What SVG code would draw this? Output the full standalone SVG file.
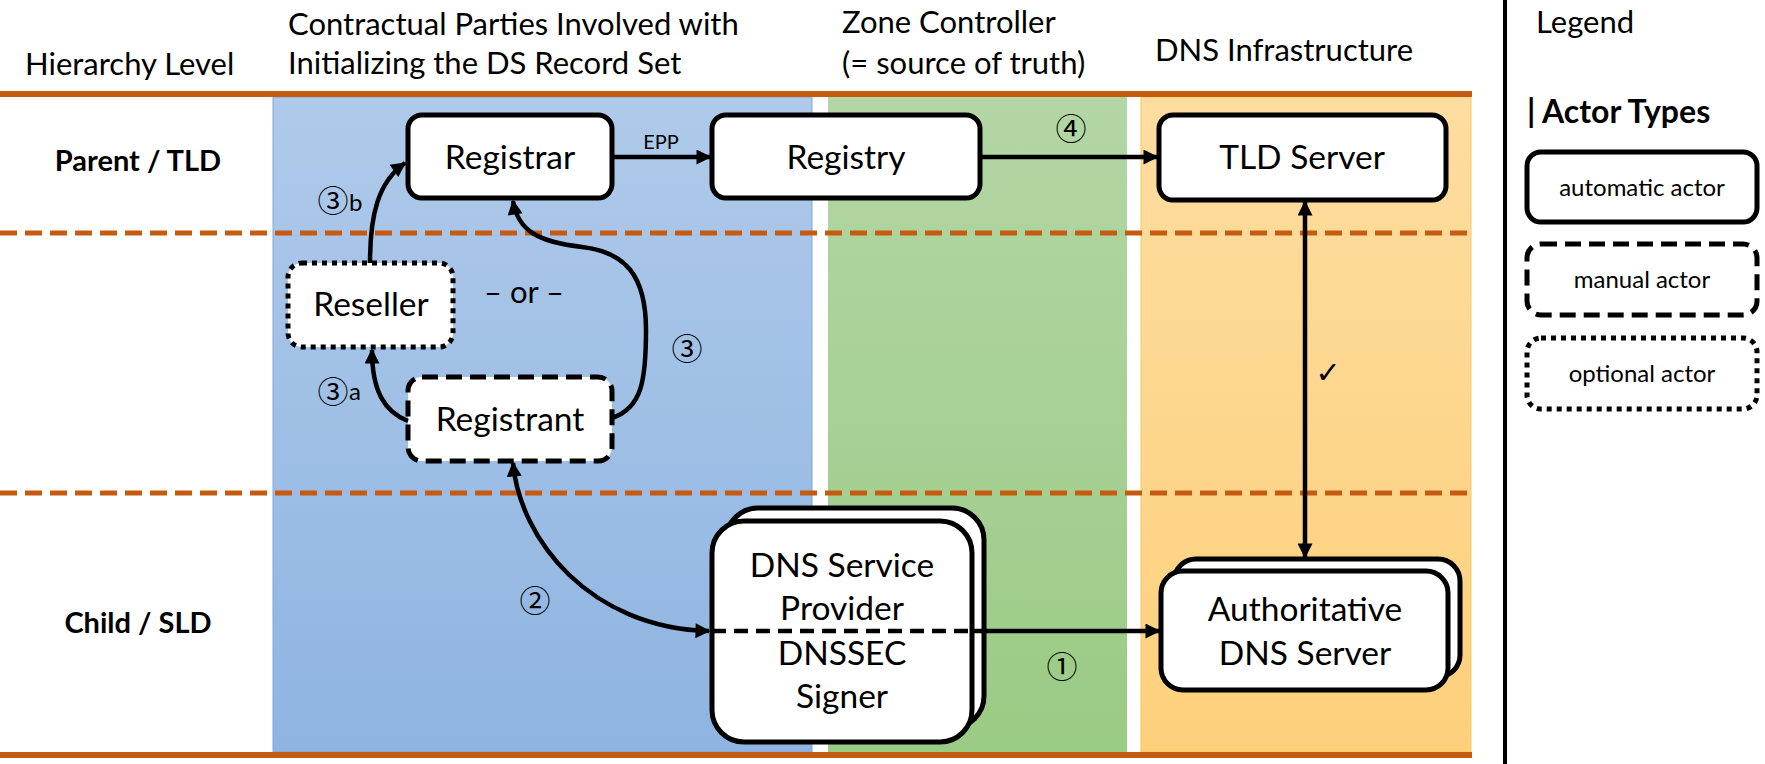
<svg xmlns="http://www.w3.org/2000/svg" width="1765" height="764" viewBox="0 0 1765 764">
<defs>
<linearGradient id="gBlue" x1="0" y1="0" x2="0" y2="1"><stop offset="0" stop-color="#afcaea"/><stop offset="1" stop-color="#8fb4e1"/></linearGradient>
<linearGradient id="gGreen" x1="0" y1="0" x2="0" y2="1"><stop offset="0" stop-color="#b3d6a5"/><stop offset="1" stop-color="#9acb84"/></linearGradient>
<linearGradient id="gOrange" x1="0" y1="0" x2="0" y2="1"><stop offset="0" stop-color="#fedda0"/><stop offset="1" stop-color="#fdd07b"/></linearGradient>
<marker id="arr" viewBox="0 0 10 10" refX="9" refY="5" markerWidth="17" markerHeight="15" markerUnits="userSpaceOnUse" orient="auto-start-reverse"><path d="M0,0 L10,5 L0,10 z" fill="#000"/></marker>
</defs>
<style>
.t{font-family:Lato,'Liberation Sans',sans-serif;fill:#000}
.hdr{font-size:31px}
.lbl{font-size:33.5px;text-anchor:middle}
.lg{font-size:24px;text-anchor:middle}
.bold{font-weight:bold;font-size:30px}
.node{fill:#fff;stroke:#000;stroke-width:5}
.dash{stroke-dasharray:16 8}
.dot{stroke-dasharray:5 5}
.conn{fill:none;stroke:#000;stroke-width:4.5}
.num{font-family:'Noto Sans CJK JP','DejaVu Sans',sans-serif;font-size:31px;text-anchor:middle;fill:#000}
.chk{font-family:'DejaVu Sans',sans-serif;font-size:30px;text-anchor:middle;fill:#000}
.sub{font-family:Lato,'Liberation Sans',sans-serif;font-size:24px;fill:#000}
.hline{stroke:#c55a11;stroke-width:6}
.dline{stroke:#c55a11;stroke-width:5;stroke-dasharray:17 8}
</style>
<rect width="1765" height="764" fill="#fff"/>
<g id="columns">
<rect x="273" y="97" width="539" height="655" fill="url(#gBlue)" stroke="#7fa7db" stroke-width="1"/>
<rect x="828" y="97" width="299" height="655" fill="url(#gGreen)"/>
<rect x="1141" y="97" width="330" height="655" fill="url(#gOrange)" stroke="#f8c860" stroke-width="1"/>
</g>
<g id="lanes">
<line class="hline" x1="0" y1="94" x2="1472" y2="94"/>
<line class="hline" x1="0" y1="755" x2="1472" y2="755"/>
<line class="dline" x1="0" y1="233" x2="1472" y2="233"/>
<line class="dline" x1="0" y1="493" x2="1472" y2="493"/>
<line x1="1505" y1="0" x2="1505" y2="764" stroke="#000" stroke-width="4"/>
</g>
<g id="headers" class="t hdr">
<text x="25" y="75">Hierarchy Level</text>
<text x="288" y="35">Contractual Parties Involved with</text>
<text x="288" y="74">Initializing the DS Record Set</text>
<text x="842" y="33">Zone Controller</text>
<text x="842" y="74">(= source of truth)</text>
<text x="1155" y="61">DNS Infrastructure</text>
<text x="1536" y="33">Legend</text>
<text class="bold" x="138" y="171" text-anchor="middle" style="font-size:29px">Parent / TLD</text>
<text class="bold" x="138" y="633" text-anchor="middle" style="font-size:29px">Child / SLD</text>
</g>
<g id="registrar">
<rect class="node" x="408" y="115" width="204" height="83" rx="14"/>
<text class="t lbl" x="510" y="169">Registrar</text>
</g>
<g id="registry">
<rect class="node" x="712" y="115" width="268" height="83" rx="14"/>
<text class="t lbl" x="846" y="169">Registry</text>
</g>
<g id="tld-server">
<rect class="node" x="1159" y="115" width="287" height="85" rx="14"/>
<text class="t lbl" x="1302" y="169">TLD Server</text>
</g>
<g id="reseller">
<rect class="node dot" x="288" y="263" width="165" height="84" rx="14"/>
<text class="t lbl" x="371" y="316">Reseller</text>
</g>
<g id="registrant">
<rect class="node dash" x="408" y="377" width="204" height="84" rx="14"/>
<text class="t lbl" x="510" y="431">Registrant</text>
</g>
<g id="dns-service-provider">
<rect class="node" x="726" y="508" width="258" height="220" rx="32"/>
<rect class="node" x="712" y="521" width="260" height="221" rx="32"/>
<text class="t lbl" x="842" y="577">DNS Service</text>
<text class="t lbl" x="842" y="620">Provider</text>
<text class="t lbl" x="842" y="665">DNSSEC</text>
<text class="t lbl" x="842" y="708">Signer</text>
</g>
<g id="authoritative-dns-server">
<rect class="node" x="1174" y="559" width="286" height="118" rx="22"/>
<rect class="node" x="1161" y="571" width="287" height="119" rx="22"/>
<text class="t lbl" x="1305" y="621">Authoritative</text>
<text class="t lbl" x="1305" y="665">DNS Server</text>
</g>
<g id="connectors">
<path class="conn" d="M612,157 H710" marker-end="url(#arr)"/>
<text class="t" x="661" y="149" text-anchor="middle" style="font-size:20px">EPP</text>
<path class="conn" d="M980,157 H1157" marker-end="url(#arr)"/>
<path class="conn" d="M1305,202 V557" marker-start="url(#arr)" marker-end="url(#arr)"/>
<path class="conn" d="M370,263 C370,215 378,182 405,163" marker-end="url(#arr)"/>
<path class="conn" d="M408,421 C385,412 372,392 372,350" marker-end="url(#arr)"/>
<path class="conn" d="M612,418 C642,408 646,380 646,330 C646,275 625,252 582,247 C540,242 518,232 513,201" marker-end="url(#arr)"/>
<path class="conn" d="M513,463 C520,540 590,628 709,631" marker-start="url(#arr)" marker-end="url(#arr)"/>
<path class="conn" d="M712,631 H972" stroke-dasharray="14 8"/>
<path class="conn" d="M972,631 H1159" marker-end="url(#arr)"/>
<text class="num" x="1071" y="140">④</text>
<text class="num" x="687" y="360">③</text>
<text class="num" x="333" y="212">③</text><text class="sub" x="349" y="211">b</text>
<text class="num" x="333" y="403">③</text><text class="sub" x="349" y="400">a</text>
<text class="num" x="535" y="612">②</text>
<text class="num" x="1062" y="678">①</text>
<text class="chk" x="1328" y="383">✓</text>
<text class="t" x="524" y="303" text-anchor="middle" style="font-size:31px">– or –</text>
</g>
<g id="legend">
<text class="t bold" x="1527" y="123" style="font-size:32px">| Actor Types</text>
<rect class="node" x="1527" y="152" width="230" height="70" rx="14"/>
<text class="t lg" x="1642" y="196">automatic actor</text>
<rect class="node dash" x="1527" y="244" width="230" height="71" rx="14"/>
<text class="t lg" x="1642" y="288">manual actor</text>
<rect class="node dot" x="1527" y="338" width="230" height="71" rx="14"/>
<text class="t lg" x="1642" y="382">optional actor</text>
</g>
</svg>
